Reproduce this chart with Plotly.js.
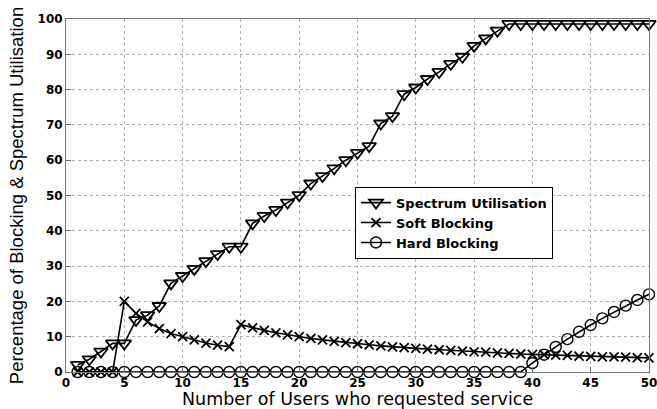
<!DOCTYPE html>
<html>
<head>
<meta charset="utf-8">
<script src="https://cdn.plot.ly/plotly-3.0.1.min.js"></script>
<style>html,body{margin:0;padding:0;background:#fff;}#chart{width:657px;height:409px;}</style>
</head>
<body>
<div id="chart"></div>
<script>
const users = [1,2,3,4,5,6,7,8,9,10,11,12,13,14,15,16,17,18,19,20,21,22,23,24,25,26,27,28,29,30,31,32,33,34,35,36,37,38,39,40,41,42,43,44,45,46,47,48,49,50];
const spectrumUtilisation = [2.0,3.6,5.8,8.1,8.1,14.7,16.1,18.7,25.1,27.2,29.2,31.4,33.4,35.5,35.5,42.1,44.2,45.9,48.0,50.1,53.4,55.5,57.7,60.0,62.1,64.0,70.4,72.5,78.7,80.6,83.0,85.0,87.3,89.3,92.4,94.5,96.7,98.6,98.6,98.6,98.6,98.6,98.6,98.6,98.6,98.6,98.6,98.6,98.6,98.6];
const softBlocking = [0,0,0,0,20.0,16.6,14.2,12.3,10.9,10.0,9.1,8.2,7.6,7.2,13.4,12.5,11.8,11.1,10.5,10.0,9.5,9.1,8.7,8.3,8.0,7.7,7.4,7.1,6.9,6.7,6.5,6.3,6.1,5.9,5.7,5.6,5.4,5.3,5.1,5.0,4.9,4.8,4.7,4.5,4.4,4.3,4.3,4.2,4.1,4.0];
const hardBlocking = [0,0,0,0,0,0,0,0,0,0,0,0,0,0,0,0,0,0,0,0,0,0,0,0,0,0,0,0,0,0,0,0,0,0,0,0,0,0,0,2.5,4.9,7.1,9.3,11.4,13.3,15.2,17.0,18.8,20.4,22.0];
const xTicks = [0,5,10,15,20,25,30,35,40,45,50];
const yTicks = [0,10,20,30,40,50,60,70,80,90,100];
const xTitle = 'Number of Users who requested service';
const yTitle = 'Percentage of Blocking & Spectrum Utilisation';

const lineStyle = {color:'#000', width:1.6};
const traces = [
  {x:users, y:spectrumUtilisation, name:'Spectrum Utilisation', type:'scatter', mode:'lines+markers', cliponaxis:false,
   line:lineStyle, marker:{symbol:'triangle-down-open', size:12, color:'#000', line:{width:1.8, color:'#000'}}},
  {x:users, y:softBlocking, name:'Soft Blocking', type:'scatter', mode:'lines+markers', cliponaxis:false,
   line:lineStyle, marker:{symbol:'x-thin-open', size:9, color:'#000', line:{width:1.8, color:'#000'}}},
  {x:users, y:hardBlocking, name:'Hard Blocking', type:'scatter', mode:'lines+markers', cliponaxis:false,
   line:lineStyle, marker:{symbol:'circle-open', size:11, color:'#000', line:{width:1.4, color:'#000'}}}
];

const tickFont = {family:'DejaVu Sans, sans-serif', size:12, color:'#000', weight:'bold'};

const layout = {
  width:657, height:409,
  margin:{l:66, r:8, t:19, b:37},
  paper_bgcolor:'#fff', plot_bgcolor:'#fff',
  showlegend:true,
  xaxis:{range:[0,50], tickvals:xTicks, ticktext:xTicks.map(String), ticks:'inside', ticklen:5, tickcolor:'#666',
    ticklabeloverflow:'allow',
    showgrid:true, gridcolor:'#b0b0b0', griddash:'dot', gridwidth:1, zeroline:false,
    showline:true, linecolor:'#777', linewidth:1, mirror:true, tickfont:tickFont},
  yaxis:{range:[0,100], tickvals:yTicks, ticktext:yTicks.map(String), ticks:'inside', ticklen:5, tickcolor:'#666',
    ticklabeloverflow:'allow',
    showgrid:true, gridcolor:'#b0b0b0', griddash:'dot', gridwidth:1, zeroline:false,
    showline:true, linecolor:'#777', linewidth:1, mirror:true, tickfont:tickFont,
    title:{text:yTitle, font:{family:'Liberation Sans, Arial, sans-serif', size:18.5, color:'#000'}, standoff:9}},
  annotations:[{text:xTitle, xref:'paper', yref:'paper', x:0.5, y:-0.076, xanchor:'center', yanchor:'middle',
    showarrow:false, font:{family:'DejaVu Sans, sans-serif', size:17.5, color:'#000'}}],
  legend:{x:0.4957, y:0.525, xanchor:'left', yanchor:'top', bgcolor:'#fff', bordercolor:'#000', borderwidth:1,
    font:{family:'DejaVu Sans, sans-serif', size:13, color:'#000', weight:'bold'},
    itemwidth:30, tracegroupgap:0}
};

Plotly.newPlot('chart', traces, layout, {displayModeBar:false, staticPlot:true});
</script>
</body>
</html>
